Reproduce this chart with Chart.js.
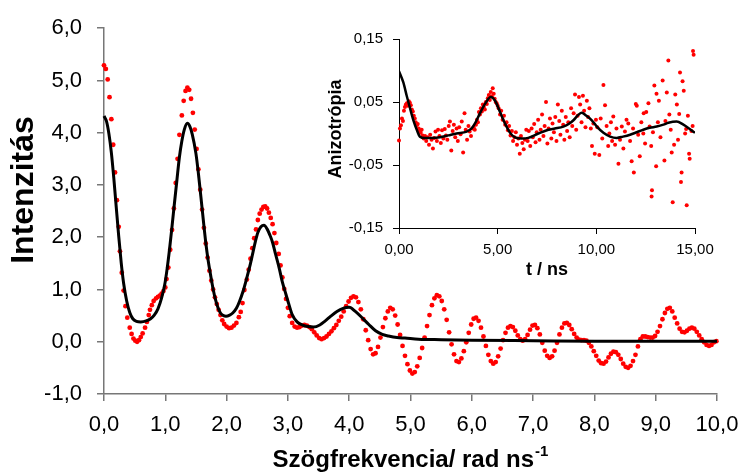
<!DOCTYPE html>
<html>
<head>
<meta charset="utf-8">
<script src="https://cdn.jsdelivr.net/npm/chart.js@4.4.0/dist/chart.umd.min.js"></script>
<style>
    body { margin: 0; background: #fff; }
    #wrap { position: relative; width: 743px; height: 474px; }
    #mainChart { position: absolute; left: 0; top: 0; }
    #insetChart { position: absolute; left: 320px; top: 20px; }
</style>
</head>
<body>
<div id="wrap">
    <canvas id="mainChart" width="743" height="474"></canvas>
    <canvas id="insetChart" width="420" height="270"></canvas>
</div>
<script>
// Main chart: measured spectrum (red dots)
const specX = [
    0, 0.03, 0.06, 0.09, 0.12, 0.15, 0.18, 0.21, 0.24, 0.26,
    0.29, 0.32, 0.35, 0.38, 0.42, 0.45, 0.48, 0.51, 0.54, 0.57,
    0.60, 0.63, 0.67, 0.70, 0.73, 0.75, 0.78, 0.81, 0.85, 0.88,
    0.91, 0.94, 0.97, 1.00, 1.02, 1.05, 1.08, 1.11, 1.14, 1.17,
    1.20, 1.23, 1.27, 1.30, 1.33, 1.36, 1.39, 1.42, 1.45, 1.48,
    1.51, 1.54, 1.57, 1.60, 1.63, 1.66, 1.69, 1.72, 1.75, 1.78,
    1.81, 1.84, 1.87, 1.90, 1.93, 1.96, 2.00, 2.04, 2.08, 2.12,
    2.16, 2.20, 2.23, 2.26, 2.29, 2.33, 2.36, 2.39, 2.42, 2.45,
    2.48, 2.51, 2.54, 2.57, 2.60, 2.63, 2.66, 2.69, 2.72, 2.75,
    2.78, 2.81, 2.85, 2.88, 2.91, 2.94, 2.97, 3.00, 3.03, 3.07,
    3.11, 3.15, 3.19, 3.23, 3.27, 3.31, 3.35, 3.39, 3.43, 3.47,
    3.51, 3.55, 3.59, 3.63, 3.67, 3.71, 3.75, 3.79, 3.83, 3.87,
    3.91, 3.95, 3.99, 4.03, 4.07, 4.11, 4.15, 4.19, 4.23, 4.27,
    4.31, 4.35, 4.39, 4.43, 4.47, 4.51, 4.55, 4.59, 4.63, 4.67,
    4.71, 4.75, 4.79, 4.83, 4.87, 4.91, 4.95, 4.99, 5.03, 5.07,
    5.11, 5.15, 5.19, 5.23, 5.27, 5.31, 5.35, 5.39, 5.43, 5.47,
    5.51, 5.55, 5.59, 5.63, 5.67, 5.71, 5.75, 5.79, 5.83, 5.87,
    5.91, 5.95, 5.99, 6.03, 6.07, 6.11, 6.15, 6.19, 6.23, 6.27,
    6.31, 6.35, 6.39, 6.43, 6.47, 6.51, 6.55, 6.59, 6.63, 6.67,
    6.71, 6.75, 6.79, 6.83, 6.87, 6.91, 6.95, 6.99, 7.03, 7.07,
    7.11, 7.15, 7.19, 7.23, 7.27, 7.31, 7.35, 7.39, 7.43, 7.47,
    7.51, 7.55, 7.59, 7.63, 7.67, 7.71, 7.75, 7.79, 7.83, 7.87,
    7.91, 7.95, 7.99, 8.03, 8.07, 8.11, 8.15, 8.19, 8.23, 8.27,
    8.31, 8.35, 8.39, 8.43, 8.47, 8.51, 8.55, 8.59, 8.63, 8.67,
    8.71, 8.75, 8.79, 8.83, 8.87, 8.91, 8.95, 8.99, 9.03, 9.07,
    9.11, 9.15, 9.19, 9.23, 9.27, 9.31, 9.35, 9.39, 9.43, 9.47,
    9.51, 9.55, 9.59, 9.63, 9.67, 9.71, 9.75, 9.79, 9.83, 9.87,
    9.91, 9.95, 9.99
];
const specY = [
    5.29, 5.22, 5.02, 4.68, 4.26, 3.77, 3.24, 2.71, 2.20, 1.73,
    1.32, 0.98, 0.68, 0.46, 0.27, 0.15, 0.06, 0.02, 0.00, 0.03,
    0.09, 0.16, 0.27, 0.38, 0.51, 0.61, 0.70, 0.78, 0.83, 0.86,
    0.88, 0.92, 0.97, 1.04, 1.20, 1.42, 1.76, 2.14, 2.55, 3.04,
    3.50, 3.96, 4.33, 4.61, 4.80, 4.86, 4.82, 4.65, 4.38, 4.06,
    3.69, 3.30, 2.91, 2.53, 2.18, 1.88, 1.61, 1.36, 1.17, 1.00,
    0.85, 0.72, 0.61, 0.51, 0.41, 0.34, 0.29, 0.26, 0.27, 0.31,
    0.36, 0.47, 0.57, 0.74, 0.99, 1.19, 1.38, 1.59, 1.79, 1.98,
    2.15, 2.33, 2.45, 2.53, 2.58, 2.59, 2.55, 2.47, 2.37, 2.25,
    2.08, 1.89, 1.68, 1.46, 1.23, 1.01, 0.82, 0.65, 0.49, 0.36,
    0.29, 0.27, 0.28, 0.31, 0.32, 0.31, 0.28, 0.24, 0.18, 0.12,
    0.07, 0.05, 0.07, 0.10, 0.15, 0.20, 0.26, 0.32, 0.40, 0.48,
    0.58, 0.68, 0.77, 0.84, 0.87, 0.85, 0.76, 0.62, 0.43, 0.22,
    0.03, -0.14, -0.24, -0.22, -0.10, 0.08, 0.28, 0.45, 0.58, 0.65,
    0.62, 0.50, 0.33, 0.13, -0.08, -0.27, -0.43, -0.55, -0.61, -0.58,
    -0.47, -0.31, -0.12, 0.08, 0.30, 0.51, 0.70, 0.83, 0.89, 0.87,
    0.78, 0.62, 0.42, 0.18, -0.05, -0.24, -0.37, -0.39, -0.32, -0.18,
    -0.01, 0.17, 0.33, 0.44, 0.46, 0.40, 0.27, 0.10, -0.08, -0.25,
    -0.37, -0.42, -0.39, -0.28, -0.13, 0.03, 0.17, 0.27, 0.30, 0.28,
    0.21, 0.12, 0.05, 0.02, 0.05, 0.13, 0.23, 0.31, 0.32, 0.26,
    0.14, -0.02, -0.17, -0.27, -0.31, -0.28, -0.17, -0.02, 0.14, 0.27,
    0.35, 0.36, 0.32, 0.24, 0.15, 0.08, 0.04, 0.03, 0.03, 0.02,
    -0.02, -0.09, -0.18, -0.27, -0.36, -0.41, -0.42, -0.38, -0.30, -0.23,
    -0.19, -0.20, -0.25, -0.33, -0.42, -0.48, -0.50, -0.46, -0.37, -0.25,
    -0.09, 0.05, 0.10, 0.10, 0.09, 0.08, 0.08, 0.11, 0.19, 0.30,
    0.43, 0.55, 0.63, 0.65, 0.58, 0.46, 0.35, 0.25, 0.19, 0.18,
    0.21, 0.25, 0.27, 0.25, 0.19, 0.12, 0.05, -0.01, -0.06, -0.08,
    -0.06, -0.01, 0.01
];

// Main chart: fitted curve (black line)
const fitX = [
    0, 0.04, 0.08, 0.12, 0.16, 0.20, 0.24, 0.28, 0.32, 0.37,
    0.42, 0.47, 0.53, 0.60, 0.69, 0.76, 0.82, 0.88, 0.94, 0.99,
    1.03, 1.07, 1.11, 1.15, 1.19, 1.23, 1.27, 1.31, 1.36, 1.40,
    1.44, 1.50, 1.54, 1.58, 1.62, 1.66, 1.70, 1.74, 1.78, 1.82,
    1.86, 1.90, 1.95, 1.99, 2.05, 2.10, 2.16, 2.21, 2.27, 2.32,
    2.38, 2.43, 2.47, 2.51, 2.56, 2.61, 2.66, 2.71, 2.75, 2.80,
    2.86, 2.91, 2.97, 3.02, 3.07, 3.15, 3.24, 3.33, 3.42, 3.52,
    3.61, 3.70, 3.80, 3.90, 4.00, 4.10, 4.21, 4.32, 4.43, 4.54,
    4.64, 4.78, 4.91, 5.13, 5.50, 6.00, 7.00, 8.00, 9.00, 10.00
];
const fitY = [
    4.32, 4.22, 3.98, 3.62, 3.13, 2.57, 2.02, 1.52, 1.12, 0.78,
    0.56, 0.44, 0.39, 0.38, 0.40, 0.44, 0.51, 0.63, 0.84, 1.09,
    1.40, 1.78, 2.21, 2.66, 3.10, 3.53, 3.84, 4.06, 4.18, 4.12,
    3.97, 3.60, 3.22, 2.78, 2.33, 1.90, 1.55, 1.27, 1.01, 0.80,
    0.65, 0.55, 0.50, 0.49, 0.51, 0.55, 0.64, 0.77, 0.97, 1.18,
    1.45, 1.71, 1.92, 2.09, 2.20, 2.23, 2.16, 2.03, 1.90, 1.67,
    1.40, 1.14, 0.90, 0.70, 0.52, 0.38, 0.32, 0.29, 0.28, 0.32,
    0.40, 0.49, 0.58, 0.64, 0.66, 0.58, 0.46, 0.33, 0.21, 0.14,
    0.11, 0.08, 0.07, 0.05, 0.04, 0.03, 0.02, 0.01, 0.01, 0.01
];

// Inset: measured anisotropy (red dots), in groups along t
const anisoT = [
    0.00, 0.05, 0.10, 0.15, 0.20, 0.25, 0.30, 0.35, 0.40, 0.45,
    0.50, 0.55, 0.60, 0.65, 0.70, 0.75, 0.80, 0.85, 0.90, 0.95,
    1.00, 1.05, 1.10, 1.15, 1.20,
    1.25, 1.32, 1.38, 1.45, 1.52, 1.58, 1.65, 1.72, 1.78, 1.85,
    1.92, 1.98, 2.05, 2.12, 2.18, 2.25, 2.32, 2.38, 2.45, 2.52,
    2.58, 2.65, 2.72, 2.78, 2.85, 2.92, 2.98, 3.05, 3.12, 3.18,
    3.25, 3.32, 3.38, 3.45, 3.52, 3.58, 3.65, 3.72,
    3.78, 3.84, 3.90, 3.95, 4.00, 4.05, 4.10, 4.15, 4.20, 4.25,
    4.30, 4.35, 4.40, 4.45, 4.50, 4.55, 4.60, 4.65, 4.70, 4.75,
    4.80, 4.85, 4.90, 4.95, 5.00,
    5.05, 5.12, 5.18, 5.25, 5.32, 5.38, 5.45, 5.52, 5.58, 5.65,
    5.72, 5.78, 5.85, 5.92, 5.98, 6.05, 6.12, 6.18, 6.25, 6.32,
    6.38, 6.45,
    6.52, 6.58, 6.65, 6.72, 6.78, 6.85, 6.92, 6.98, 7.05, 7.12,
    7.18, 7.25, 7.32, 7.38, 7.45, 7.52, 7.58, 7.65, 7.72, 7.78,
    7.85, 7.92, 7.98, 8.05, 8.12, 8.18, 8.25, 8.32, 8.38, 8.45,
    8.52, 8.58, 8.65, 8.72, 8.78, 8.85, 8.92, 8.98, 9.05, 9.12,
    9.18, 9.25, 9.32, 9.38, 9.45, 9.52, 9.58, 9.65, 9.72, 9.78,
    9.85, 9.92, 9.98,
    10.05, 10.15, 10.22, 10.30, 10.36, 10.44, 10.52, 10.60, 10.66, 10.74,
    10.80, 10.86, 10.95, 11.02, 11.12, 11.20, 11.29, 11.37, 11.45, 11.53,
    11.62, 11.71, 11.79, 11.86, 11.90, 12.00, 12.05, 12.12, 12.20, 12.28,
    12.38, 12.40, 12.47, 12.53, 12.64, 12.70, 12.78, 12.80, 12.82, 12.87,
    12.94, 13.03, 13.05, 13.12, 13.17, 13.25, 13.36, 13.45, 13.50, 13.57,
    13.65, 13.70, 13.77, 13.82, 13.87, 13.94, 14.00, 14.08, 14.14, 14.20,
    14.24, 14.29, 14.32, 14.37, 14.43, 14.50, 14.55, 14.58, 14.64, 14.70,
    14.73, 14.82, 14.88, 14.90, 14.93
];
const anisoA = [
    -0.011, 0.008, 0.013, 0.024, 0.020, 0.036, 0.042, 0.046, 0.048, 0.044,
    0.051, 0.049, 0.045, 0.038, 0.035, 0.028, 0.024, 0.018, 0.013, 0.015,
    0.008, 0.004, 0.001, 0.006, -0.003,
    -0.008, -0.004, -0.012, -0.006, -0.018, -0.002, -0.010, -0.024, -0.007, 0.003,
    -0.012, 0.006, -0.004, -0.015, 0.005, -0.008, 0.007, -0.003, -0.010, 0.012,
    0.019, -0.027, 0.004, 0.014, -0.006, 0.008, -0.012, 0.010, -0.001, 0.019,
    -0.030, 0.032, 0.006, -0.010, 0.012, 0.003, -0.004, 0.008,
    0.010, 0.006, 0.014, 0.022, 0.018, 0.034, 0.030, 0.040, 0.035, 0.046,
    0.042, 0.038, 0.050, 0.047, 0.056, 0.061, 0.053, 0.066, 0.059, 0.072,
    0.063, 0.055, 0.050, 0.048, 0.044,
    0.040, 0.030, 0.036, 0.022, 0.028, 0.014, 0.018, 0.005, 0.012, -0.003,
    0.004, -0.012, -0.006, 0.002, -0.018, -0.008, -0.032, -0.004, -0.015, -0.025,
    -0.010, 0.006,
    -0.012, 0.004, -0.020, 0.008, -0.006, 0.015, -0.014, 0.002, 0.022, -0.010,
    0.006, 0.030, -0.004, 0.012, 0.050, -0.016, 0.008, 0.024, -0.008, 0.016,
    0.002, 0.026, -0.012, 0.046, 0.020, -0.002, 0.036, 0.014, -0.010, 0.026,
    0.004, 0.018, -0.006, 0.040, 0.012, 0.032, 0.062, 0.006, 0.028, 0.058,
    0.046, 0.018, 0.060, 0.036, 0.010, 0.052, 0.026, 0.040, 0.008, -0.020,
    0.016, -0.032, 0.022,
    0.010, -0.034, 0.024, -0.008, 0.077, 0.045, 0.012, -0.020, 0.000, 0.018,
    -0.012, 0.027, -0.018, 0.008, -0.048, -0.010, 0.011, -0.024, 0.003, 0.022,
    0.016, -0.012, -0.044, 0.008, -0.062, 0.047, 0.044, -0.002, -0.036, 0.018,
    0.000, 0.032, -0.016, 0.034, 0.048, 0.011, -0.020, -0.100, -0.090, 0.002,
    0.076, -0.052, 0.063, 0.018, 0.052, -0.006, 0.084, -0.043, 0.020, 0.065,
    0.116, 0.030, 0.006, -0.030, -0.109, -0.018, 0.062, 0.046, -0.010, 0.031,
    0.097, -0.077, -0.062, 0.083, 0.068, 0.000, 0.007, -0.114, 0.028, -0.032,
    -0.040, 0.004, 0.012, 0.131, 0.125
];

// Inset: fitted anisotropy decay (black line)
const anisoFitT = [
    0, 0.22, 0.39, 0.56, 0.73, 0.90, 1.06, 1.30, 1.70, 2.08,
    2.50, 2.92, 3.43, 3.68, 3.85, 4.10, 4.36, 4.65, 4.87, 5.12,
    5.37, 5.63, 5.88, 6.22, 6.55, 7.06, 7.57, 7.90, 8.33, 8.60,
    8.84, 9.10, 9.26, 9.50, 9.77, 10.05, 10.36, 10.70, 11.03, 11.35,
    11.71, 12.05, 12.38, 12.70, 13.06, 13.40, 13.65, 14.07, 14.41, 14.70,
    15.00
];
const anisoFitA = [
    0.099, 0.081, 0.060, 0.040, 0.021, 0.006, -0.005, -0.007, -0.007, -0.006,
    -0.003, 0.000, 0.003, 0.008, 0.016, 0.032, 0.047, 0.058, 0.052, 0.034,
    0.016, 0.001, -0.006, -0.008, -0.007, 0.000, 0.006, 0.008, 0.011, 0.015,
    0.021, 0.030, 0.033, 0.028, 0.021, 0.010, 0.001, -0.005, -0.007, -0.005,
    -0.002, 0.002, 0.006, 0.009, 0.011, 0.014, 0.017, 0.019, 0.014, 0.008,
    0.001
];

const FONT = "'Liberation Sans', Arial, sans-serif";

function toPoints(xs, ys) {
    const n = Math.min(xs.length, ys.length);
    const pts = [];
    for (let i = 0; i < n; i++) pts.push({ x: xs[i], y: ys[i] });
    return pts;
}

function comma(v, digits) {
    return Number(v).toFixed(digits).replace(".", ",").replace("-0,00", "0,00");
}

function axisStyle(color, width, tickLength) {
    return {
        grid: { display: true, drawOnChartArea: false, drawTicks: true, tickLength: tickLength, color: color, lineWidth: width },
        border: { display: true, color: color, width: width }
    };
}

// Axis titles, drawn by hand so the superscript and positions match
const mainTitles = {
    id: "mainTitles",
    afterDraw(chart) {
        const ctx = chart.ctx;
        const area = chart.chartArea;
        const main = "Szögfrekvencia/ rad ns";
        const sup = "-1";
        ctx.save();
        ctx.fillStyle = "#000";
        ctx.textBaseline = "alphabetic";
        ctx.font = "bold 24px " + FONT;
        const w1 = ctx.measureText(main).width;
        ctx.font = "bold 15px " + FONT;
        const w2 = ctx.measureText(sup).width;
        const x0 = (area.left + area.right) / 2 - (w1 + w2 + 1) / 2;
        ctx.font = "bold 24px " + FONT;
        ctx.fillText(main, x0, 467);
        ctx.font = "bold 15px " + FONT;
        ctx.fillText(sup, x0 + w1 + 1, 456);

        ctx.translate(24, 190);
        ctx.rotate(-Math.PI / 2);
        ctx.textAlign = "center";
        ctx.textBaseline = "middle";
        ctx.font = "bold 32px " + FONT;
        ctx.fillText("Intenzitás", 0, 0);
        ctx.restore();
    }
};

const insetTitles = {
    id: "insetTitles",
    afterDraw(chart) {
        const ctx = chart.ctx;
        const area = chart.chartArea;
        ctx.save();
        ctx.fillStyle = "#000";
        ctx.textAlign = "center";
        ctx.textBaseline = "middle";
        ctx.font = "bold 18px " + FONT;
        ctx.fillText("t / ns", (area.left + area.right) / 2, 250);
        ctx.translate(16, 109);
        ctx.rotate(-Math.PI / 2);
        ctx.fillText("Anizotrópia", 0, 0);
        ctx.restore();
    }
};

new Chart(document.getElementById("mainChart"), {
    type: "scatter",
    data: {
        datasets: [
            {
                label: "Illesztés",
                data: toPoints(fitX, fitY),
                showLine: true,
                borderColor: "#000",
                borderWidth: 3,
                pointRadius: 0,
                cubicInterpolationMode: "monotone",
                clip: false,
                order: 0
            },
            {
                label: "Spektrum",
                data: toPoints(specX, specY),
                pointRadius: 2.4,
                pointBackgroundColor: "#ff0000",
                pointBorderWidth: 0,
                clip: false,
                order: 1
            }
        ]
    },
    options: {
        responsive: false,
        devicePixelRatio: 1,
        animation: false,
        layout: { padding: { left: 0, top: 22, right: 26, bottom: 0 } },
        plugins: { legend: { display: false }, tooltip: { enabled: false } },
        scales: {
            x: Object.assign({
                type: "linear",
                min: 0,
                max: 10,
                afterFit: function (scale) {
                    scale.height = 80;
                    scale.paddingLeft = 0;
                    scale.paddingRight = 0;
                },
                ticks: {
                    stepSize: 1, autoSkip: false, maxRotation: 0, padding: 11,
                    color: "#000", font: { family: FONT, size: 22 },
                    callback: v => comma(v, 1)
                }
            }, axisStyle("#777", 1.5, 7)),
            y: Object.assign({
                min: -1,
                max: 6,
                afterFit: function (scale) { scale.width = 104; },
                ticks: {
                    stepSize: 1, autoSkip: false, padding: 15,
                    color: "#000", font: { family: FONT, size: 22 },
                    callback: v => comma(v, 1)
                }
            }, axisStyle("#777", 1.5, 7))
        }
    },
    plugins: [mainTitles]
});

new Chart(document.getElementById("insetChart"), {
    type: "scatter",
    data: {
        datasets: [
            {
                label: "Illesztés",
                data: toPoints(anisoFitT, anisoFitA),
                showLine: true,
                borderColor: "#000",
                borderWidth: 2.5,
                pointRadius: 0,
                cubicInterpolationMode: "monotone",
                order: 0
            },
            {
                label: "Anizotrópia",
                data: toPoints(anisoT, anisoA),
                pointRadius: 2,
                pointBackgroundColor: "#ff0000",
                pointBorderWidth: 0,
                clip: false,
                order: 1
            }
        ]
    },
    options: {
        responsive: false,
        devicePixelRatio: 1,
        animation: false,
        layout: { padding: { left: 0, top: 16, right: 45, bottom: 0 } },
        plugins: { legend: { display: false }, tooltip: { enabled: false } },
        scales: {
            x: Object.assign({
                type: "linear",
                min: 0,
                max: 15,
                afterFit: function (scale) {
                    scale.height = 62;
                    scale.paddingLeft = 0;
                    scale.paddingRight = 0;
                },
                ticks: {
                    stepSize: 5, autoSkip: false, maxRotation: 0, padding: 7,
                    color: "#000", font: { family: FONT, size: 15 },
                    callback: v => comma(v, 2)
                }
            }, axisStyle("#000", 1, 6)),
            y: Object.assign({
                min: -0.15,
                max: 0.15,
                afterFit: function (scale) { scale.width = 79; },
                ticks: {
                    stepSize: 0.1, autoSkip: false, padding: 10,
                    color: "#000", font: { family: FONT, size: 15 },
                    callback: v => comma(v, 2)
                }
            }, axisStyle("#000", 1, 6))
        }
    },
    plugins: [insetTitles]
});
</script>
</body>
</html>
